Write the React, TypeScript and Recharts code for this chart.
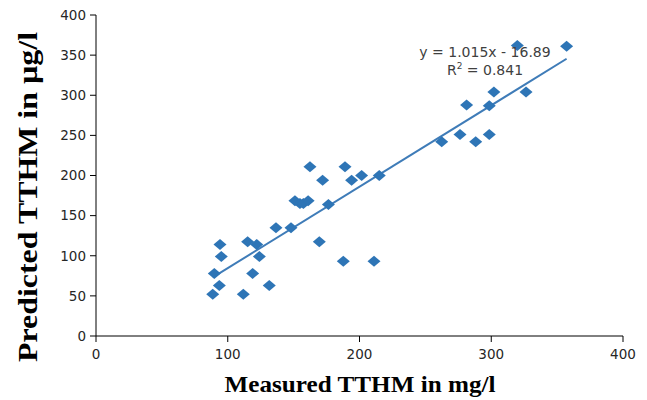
import { ScatterChart, Scatter, XAxis, YAxis } from 'recharts'

// measured (x) vs predicted (y)
const measured = [88.6, 89.8, 93.6, 94.1, 95.1, 111.8, 115.1, 118.9, 122, 124, 131.5, 136.6, 148, 151, 154.8, 157.4, 161, 162.4, 169.5, 172, 176.4, 187.7, 189, 194, 201.6, 211, 215, 262.4, 276.3, 281.3, 288.2, 298.5, 298.5, 302, 326.4, 319.8, 357.2]
const predicted = [52, 78, 63, 114, 99, 52, 117.5, 78, 114, 99, 63, 135, 135, 168.6, 165, 165, 168.6, 211, 117.5, 194, 164, 93, 211, 194, 200, 93, 200, 242, 251, 288, 242, 251, 287, 304, 304, 362, 361]

// linear trendline end points
const trendX = [88.6, 357.2]
const trendY = [73, 345.5]

const xTicks = [0, 100, 200, 300, 400]
const yTicks = [0, 50, 100, 150, 200, 250, 300, 350, 400]

const points = measured.map((x, i) => ({ x, y: predicted[i] }))
const trend = trendX.map((x, i) => ({ x, y: trendY[i] }))

const BLUE = '#2e75b6'
const tickStyle = { fontSize: 13.5, fill: '#262626', fontFamily: 'DejaVu Sans' }

const Diamond = (props: any) => {
  const { cx, cy } = props
  if (cx == null || cy == null) return <g />
  return <path d={`M${cx - 6.5},${cy} L${cx},${cy - 5.5} L${cx + 6.5},${cy} L${cx},${cy + 5.5} Z`} fill={BLUE} />
}

export default function App() {
  return (
    <div style={{ position: 'absolute', left: 0, top: 0, width: 647, height: 400, background: '#fff' }}>
      <ScatterChart width={647} height={400} margin={{ top: 15, right: 24, bottom: 34, left: 56 }}>
        <XAxis type="number" dataKey="x" domain={[0, 400]} ticks={xTicks} tickSize={6} tickMargin={7}
          tick={tickStyle} stroke="#000" />
        <YAxis type="number" dataKey="y" domain={[0, 400]} ticks={yTicks} width={40} tickSize={6} tickMargin={4}
          tick={tickStyle} stroke="#000" />
        <Scatter data={trend} line={{ stroke: '#3f7cb8', strokeWidth: 2 }} shape={() => <g />} isAnimationActive={false} />
        <Scatter data={points} shape={Diamond} isAnimationActive={false} />
      </ScatterChart>
      <svg width={647} height={400} style={{ position: 'absolute', left: 0, top: 0, pointerEvents: 'none' }}>
        <text x={485} y={57} textAnchor="middle" fontSize={14} fill="#404040" fontFamily="DejaVu Sans">y = 1.015x - 16.89</text>
        <text x={485} y={75} textAnchor="middle" fontSize={14} fill="#404040" fontFamily="DejaVu Sans">
          R<tspan fontSize={9} dy={-6}>2</tspan><tspan dy={6}> = 0.841</tspan>
        </text>
        <text x={360} y={392} textAnchor="middle" fontSize={23} fontWeight="bold" fontFamily="Liberation Serif"
          fill="#000" textLength={271} lengthAdjust="spacingAndGlyphs">Measured TTHM in mg/l</text>
        <text x={37} y={197} transform="rotate(-90 37 197)" textAnchor="middle" fontSize={27} fontWeight="bold"
          fontFamily="Liberation Serif" fill="#000" textLength={330} lengthAdjust="spacingAndGlyphs">Predicted TTHM in µg/l</text>
      </svg>
    </div>
  )
}
